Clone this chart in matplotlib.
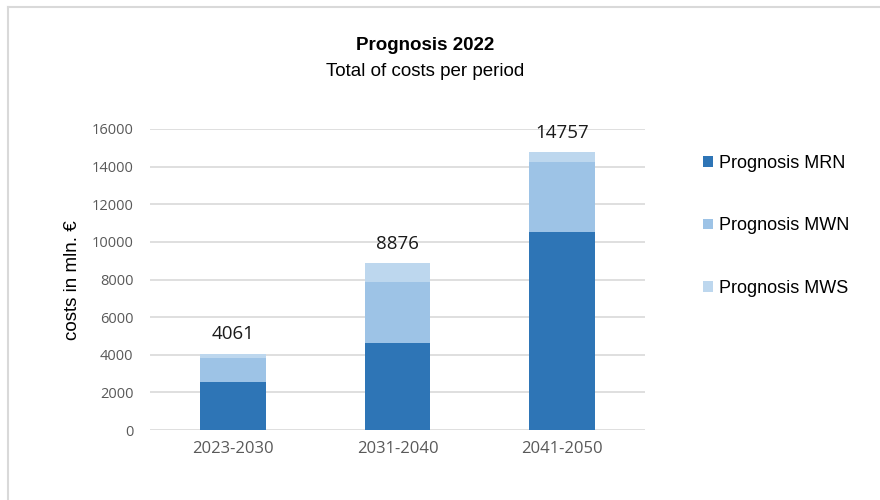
import matplotlib
matplotlib.use("Agg")
import matplotlib.pyplot as plt
from matplotlib.lines import Line2D
import numpy as np

periods = ["2023-2030", "2031-2040", "2041-2050"]
mrn = [2570, 4610, 10550]
mwn = [1240, 3250, 3690]
mws = [251, 1016, 517]
totals = [4061, 8876, 14757]
series_names = ["Prognosis MRN", "Prognosis MWN", "Prognosis MWS"]
colors = ["#2E75B6", "#9DC3E6", "#BDD7EE"]

plt.rcParams['font.family'] = ['Liberation Sans', 'DejaVu Sans']

fig = plt.figure(figsize=(8.8, 5), dpi=100)
ax = fig.add_axes([150/880, 70/500, 495/880, 301/500])

x = np.arange(len(periods))
w = 0.4
bottom = np.zeros(len(periods))
for vals, name, c in zip([mrn, mwn, mws], series_names, colors):
    ax.bar(x, vals, w, bottom=bottom, color=c, label=name, zorder=3)
    bottom += np.array(vals)

for xi, t in zip(x, totals):
    ax.text(xi, t + 550, str(t), ha="center", va="bottom", fontsize=13.5,
            color="#1A1A1A", family=["Open Sans", "DejaVu Sans"])

ax.set_xlim(-0.505, 2.505)
ax.set_ylim(0, 16000)
ax.set_yticks(np.arange(0, 16001, 2000))
ax.yaxis.grid(True, color="#D9D9D9", linewidth=1.2, zorder=0)
ax.set_axisbelow(True)
for s in ax.spines.values():
    s.set_visible(False)
ax.tick_params(length=0)
ax.tick_params(axis="y", labelsize=10.5, labelcolor="#595959", pad=12)
ax.set_xticks(x)
ax.set_xticklabels(periods, fontsize=12, color="#595959", family=["Open Sans", "DejaVu Sans"])
ax.tick_params(axis="x", pad=8)
for lbl in ax.get_yticklabels():
    lbl.set_family(["Open Sans", "DejaVu Sans"])

fig.text(72/880, 1 - 280/500, "costs in mln. €", rotation=90, ha="center", va="center", fontsize=13.5)

fig.text(425/880, 1 - 46/500, "Prognosis 2022", ha="center", va="center", fontsize=13.5, fontweight="bold")
fig.text(425/880, 1 - 71/500, "Total of costs per period", ha="center", va="center", fontsize=13.5)

handles, labels = ax.get_legend_handles_labels()
fig.legend(handles, labels, loc="upper left", bbox_to_anchor=(687/880, 1 - 139/500),
           frameon=False, fontsize=13, handlelength=0.55, handleheight=0.55,
           handletextpad=0.3, labelspacing=2.5)

fig.add_artist(Line2D([8/880, 8/880], [0, 1 - 7/500], transform=fig.transFigure, color="#D9D9D9", lw=1.5))
fig.add_artist(Line2D([8/880, 1], [1 - 7/500, 1 - 7/500], transform=fig.transFigure, color="#D9D9D9", lw=1.5))

fig.savefig("out.png", dpi=100)
